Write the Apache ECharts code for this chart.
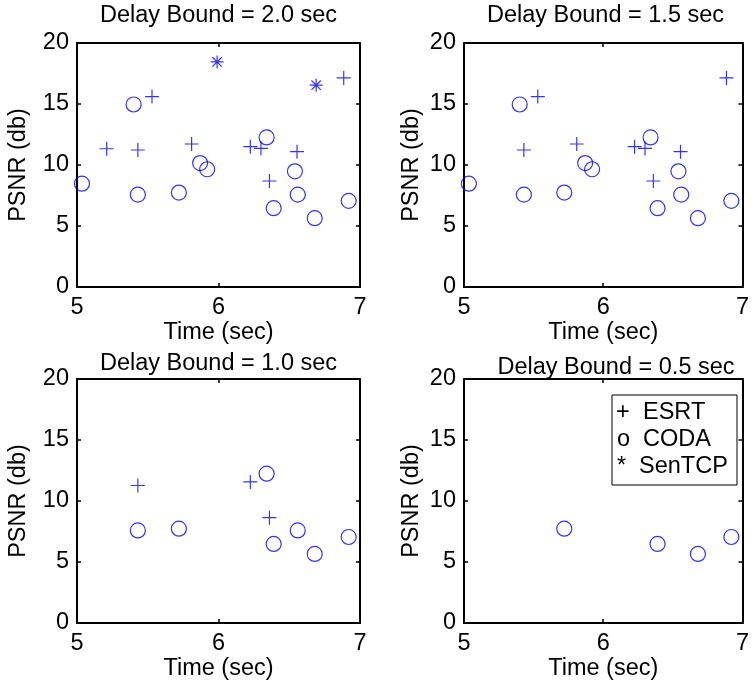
<!DOCTYPE html>
<html>
<head>
<meta charset="utf-8">
<script src="https://cdn.jsdelivr.net/npm/echarts@6/dist/echarts.min.js"></script>
<style>html,body{margin:0;padding:0;background:#fff;}#c{width:752px;height:688px;}</style>
</head>
<body>
<div id="c"></div>
<script>
// ---- data ----
const panelTitles = ['Delay Bound = 2.0 sec', 'Delay Bound = 1.5 sec', 'Delay Bound = 1.0 sec', 'Delay Bound = 0.5 sec'];
const xTicks = [5, 6, 7];
const yTicks = [0, 5, 10, 15, 20];

// Delay bound 2.0 s
const esrt20X = [5.21, 5.43, 5.53, 5.81, 6.225, 6.30, 6.36, 6.555, 6.885];
const esrt20Y = [11.33, 11.23, 15.61, 11.72, 11.5, 11.36, 8.69, 11.09, 17.14];
const coda20X = [5.035, 5.40, 5.43, 5.72, 5.87, 5.92, 6.34, 6.39, 6.54, 6.56, 6.68, 6.92];
const coda20Y = [8.47, 14.96, 7.57, 7.74, 10.16, 9.65, 12.26, 6.46, 9.48, 7.57, 5.64, 7.06];
const sentcp20X = [5.99, 6.69];
const sentcp20Y = [18.45, 16.54];

// Delay bound 1.5 s
const esrt15X = [5.43, 5.53, 5.81, 6.225, 6.30, 6.36, 6.555, 6.885];
const esrt15Y = [11.23, 15.61, 11.72, 11.5, 11.36, 8.69, 11.09, 17.14];
const coda15X = [5.035, 5.40, 5.43, 5.72, 5.87, 5.92, 6.34, 6.39, 6.54, 6.56, 6.68, 6.92];
const coda15Y = [8.47, 14.96, 7.57, 7.74, 10.16, 9.65, 12.26, 6.46, 9.48, 7.57, 5.64, 7.06];
const sentcp15X = [];
const sentcp15Y = [];

// Delay bound 1.0 s
const esrt10X = [5.43, 6.225, 6.36];
const esrt10Y = [11.27, 11.56, 8.63];
const coda10X = [5.43, 5.72, 6.34, 6.39, 6.56, 6.68, 6.92];
const coda10Y = [7.59, 7.73, 12.24, 6.48, 7.59, 5.66, 7.05];
const sentcp10X = [];
const sentcp10Y = [];

// Delay bound 0.5 s
const esrt05X = [];
const esrt05Y = [];
const coda05X = [5.72, 6.39, 6.68, 6.92];
const coda05Y = [7.73, 6.48, 5.66, 7.05];
const sentcp05X = [];
const sentcp05Y = [];

const legendMarks = ['+', 'o', '*'];
const legendNames = ['ESRT', 'CODA', 'SenTCP'];

// ---- build chart ----
const FONT = "'Liberation Sans', Arial, Helvetica, sans-serif";
const FS = 23.5;
const BLUE = '#0000ff';
const zip = (xs, ys) => xs.map((x, i) => [x, ys[i]]);

const panels = [
  {esrt: zip(esrt20X, esrt20Y), coda: zip(coda20X, coda20Y), sentcp: zip(sentcp20X, sentcp20Y)},
  {esrt: zip(esrt15X, esrt15Y), coda: zip(coda15X, coda15Y), sentcp: zip(sentcp15X, sentcp15Y)},
  {esrt: zip(esrt10X, esrt10Y), coda: zip(coda10X, coda10Y), sentcp: zip(sentcp10X, sentcp10Y)},
  {esrt: zip(esrt05X, esrt05Y), coda: zip(coda05X, coda05Y), sentcp: zip(sentcp05X, sentcp05Y)}
];

const gridPos = [
  {left: 77, top: 43, width: 283, height: 244},
  {left: 464, top: 43, width: 283, height: 244},
  {left: 77, top: 379, width: 283, height: 244},
  {left: 464, top: 379, width: 283, height: 244}
];
const titlePos = [
  {x: 218.5, y: 4}, {x: 605.5, y: 4}, {x: 218.5, y: 352}, {x: 616, y: 356}
];
const yNameGap = [46, 40, 46, 40];

const grids = [], xAxes = [], yAxes = [], series = [], titles = [];
const lineStyle = {color: '#000', width: 2};
const tickStyle = {color: '#000', width: 1.5};
const textStyle = {color: '#000', fontFamily: FONT, fontSize: FS};

gridPos.forEach((g, i) => {
  grids.push(Object.assign({containLabel: false}, g));
  titles.push({
    text: panelTitles[i], left: titlePos[i].x, top: titlePos[i].y, textAlign: 'center', padding: 0,
    textStyle: {color: '#000', fontFamily: FONT, fontSize: FS, fontWeight: 'normal'}
  });
  const common = {
    type: 'value', gridIndex: i, splitLine: {show: false},
    axisLine: {show: true, onZero: false, lineStyle},
    axisTick: {show: true, inside: true, length: 4, lineStyle: tickStyle}
  };
  xAxes.push(Object.assign({}, common, {
    position: 'bottom', min: xTicks[0], max: xTicks[xTicks.length - 1], interval: 1,
    name: 'Time (sec)', nameLocation: 'middle', nameGap: 29, nameTextStyle: textStyle,
    axisLabel: Object.assign({margin: 9}, textStyle)
  }));
  xAxes.push(Object.assign({}, common, {
    position: 'top', min: xTicks[0], max: xTicks[xTicks.length - 1], interval: 1,
    axisLabel: {show: false}
  }));
  yAxes.push(Object.assign({}, common, {
    position: 'left', min: yTicks[0], max: yTicks[yTicks.length - 1], interval: 5,
    name: 'PSNR (db)', nameLocation: 'middle', nameGap: yNameGap[i], nameTextStyle: textStyle,
    axisLabel: Object.assign({margin: 8}, textStyle)
  }));
  yAxes.push(Object.assign({}, common, {
    position: 'right', min: yTicks[0], max: yTicks[yTicks.length - 1], interval: 5,
    axisLabel: {show: false}
  }));
  const xi = i * 2, yi = i * 2;
  const p = panels[i];
  series.push({
    name: 'ESRT', type: 'scatter', xAxisIndex: xi, yAxisIndex: yi, data: p.esrt,
    symbol: 'path://M0 -1L0 1M-1 0L1 0', symbolSize: 14,
    itemStyle: {color: 'none', borderColor: BLUE, borderWidth: 1.2}, silent: true
  });
  series.push({
    name: 'CODA', type: 'scatter', xAxisIndex: xi, yAxisIndex: yi, data: p.coda,
    symbol: 'circle', symbolSize: 15,
    itemStyle: {color: 'none', borderColor: BLUE, borderWidth: 1.2}, silent: true
  });
  series.push({
    name: 'SenTCP', type: 'scatter', xAxisIndex: xi, yAxisIndex: yi, data: p.sentcp,
    symbol: 'path://M0 -1L0 1M-1 0L1 0M-0.72 -0.72L0.72 0.72M-0.72 0.72L0.72 -0.72', symbolSize: 13,
    itemStyle: {color: 'none', borderColor: BLUE, borderWidth: 1.2}, silent: true
  });
});

// legend box (MATLAB-style text legend) in the last panel
const legBox = {x: 612, y: 395, w: 125, h: 90};
const legRowY = [413, 440, 467];
const legMarkX = [616, 617, 617];
const legTextX = [643, 643, 639];
const graphic = [{
  type: 'rect', shape: {x: legBox.x, y: legBox.y, width: legBox.w, height: legBox.h},
  style: {fill: '#fff', stroke: '#000', lineWidth: 1}, z: 100
}];
legendMarks.forEach((m, k) => {
  graphic.push({type: 'text', x: legMarkX[k], y: legRowY[k], z: 101,
    style: {text: m, fill: '#000', font: FS + 'px ' + FONT, textVerticalAlign: 'middle', verticalAlign: 'middle'}});
  graphic.push({type: 'text', x: legTextX[k], y: legRowY[k], z: 101,
    style: {text: legendNames[k], fill: '#000', font: FS + 'px ' + FONT, textVerticalAlign: 'middle', verticalAlign: 'middle'}});
});

const chart = echarts.init(document.getElementById('c'), null, {renderer: 'canvas'});
chart.setOption({
  animation: false,
  backgroundColor: '#fff',
  title: titles,
  grid: grids,
  xAxis: xAxes,
  yAxis: yAxes,
  series: series,
  graphic: graphic
});
</script>
</body>
</html>
